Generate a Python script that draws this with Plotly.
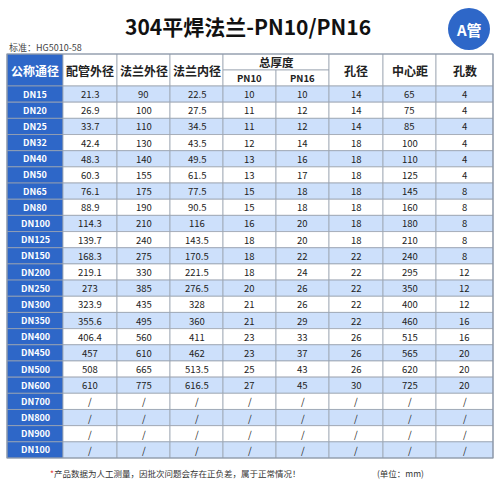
import plotly.graph_objects as go

title = "304平焊法兰-PN10/PN16"
standard = "标准：HG5010-58"
headers = ["公称通径", "配管外径", "法兰外径", "法兰内径", "总厚度", "孔径", "中心距", "孔数"]
sub_headers = ["PN10", "PN16"]
dn = ["DN15","DN20","DN25","DN32","DN40","DN50","DN65","DN80","DN100","DN125","DN150","DN200","DN250","DN300","DN350","DN400","DN450","DN500","DN600","DN700","DN800","DN900","DN100"]
pipe_od = ["21.3","26.9","33.7","42.4","48.3","60.3","76.1","88.9","114.3","139.7","168.3","219.1","273","323.9","355.6","406.4","457","508","610","/","/","/","/"]
flange_od = ["90","100","110","130","140","155","175","190","210","240","275","330","385","435","495","560","610","665","775","/","/","/","/"]
flange_id = ["22.5","27.5","34.5","43.5","49.5","61.5","77.5","90.5","116","143.5","170.5","221.5","276.5","328","360","411","462","513.5","616.5","/","/","/","/"]
pn10 = ["10","11","11","12","13","13","15","15","16","18","18","18","20","21","21","23","23","25","27","/","/","/","/"]
pn16 = ["10","12","12","14","16","17","18","18","20","20","22","24","26","26","29","33","37","43","45","/","/","/","/"]
hole = ["14","14","14","18","18","18","18","18","18","18","22","22","22","22","22","26","26","26","30","/","/","/","/"]
pcd = ["65","75","85","100","110","125","145","160","180","210","240","295","350","400","460","515","565","620","725","/","/","/","/"]
holes = ["4","4","4","4","4","4","8","8","8","8","8","12","12","12","16","16","20","20","20","/","/","/","/"]
columns = [dn, pipe_od, flange_od, flange_id, pn10, pn16, hole, pcd, holes]

xb = [7, 63, 117, 170, 223, 276, 329, 383, 436, 493]
y_head0, y_head1, y_head2 = 54, 70, 86
y_end = 458
n = len(dn)
rh = (y_end - y_head2) / n
BLUE = "#2e67c8"; LIGHT = "#cde0fb"; GRID = "#9aa3b0"

shapes = []; ann = []
def rect(x0, y0, x1, y1, fill):
    shapes.append(dict(type="rect", x0=x0, x1=x1, y0=y0, y1=y1, fillcolor=fill,
                       line=dict(color=GRID, width=0.8), layer="below"))
def txt(x, y, t, size=10, color="#222", bold=False):
    ann.append(dict(x=x, y=y, text=f"<b>{t}</b>" if bold else t, showarrow=False,
                    font=dict(size=size, color=color, family="Noto Sans CJK SC")))

rect(xb[0], y_head0, xb[1], y_head2, BLUE)
txt((xb[0]+xb[1])/2, (y_head0+y_head2)/2, headers[0], 12, "white", True)
for i in range(1, 4):
    rect(xb[i], y_head0, xb[i+1], y_head2, "white")
    txt((xb[i]+xb[i+1])/2, (y_head0+y_head2)/2, headers[i], 12, "#222", True)
rect(xb[4], y_head0, xb[6], y_head1, "white")
txt((xb[4]+xb[6])/2, (y_head0+y_head1)/2, headers[4], 11.5, "#222", True)
for k in range(2):
    rect(xb[4+k], y_head1, xb[5+k], y_head2, "white")
    txt((xb[4+k]+xb[5+k])/2, (y_head1+y_head2)/2, sub_headers[k], 9.5, "#222", True)
for i in range(6, 9):
    rect(xb[i], y_head0, xb[i+1], y_head2, "white")
    txt((xb[i]+xb[i+1])/2, (y_head0+y_head2)/2, headers[i-1], 12, "#222", True)

for r in range(n):
    y0 = y_head2 + r*rh; y1 = y0 + rh; yc = (y0+y1)/2
    for c in range(9):
        if c == 0:
            rect(xb[c], y0, xb[c+1], y1, BLUE)
            txt((xb[c]+xb[c+1])/2, yc, columns[c][r], 9, "white", True)
        else:
            rect(xb[c], y0, xb[c+1], y1, LIGHT if r % 2 == 0 else "white")
            txt((xb[c]+xb[c+1])/2, yc, columns[c][r], 9.5)

shapes.append(dict(type="rect", x0=xb[0], x1=xb[-1], y0=y_head0, y1=y_end,
                   line=dict(color="#8a96a8", width=1.2), fillcolor="rgba(0,0,0,0)"))

txt(248, 26, title, 21, "#111", True)
ann.append(dict(x=7, y=47, text=standard, showarrow=False, xanchor="left",
                font=dict(size=9, color="#444", family="Noto Sans CJK SC")))
shapes.append(dict(type="circle", x0=448, x1=490, y0=8, y1=50, fillcolor=BLUE, line=dict(width=0)))
txt(469, 29, "A管", 15, "white", True)
ann.append(dict(x=48, y=473, text="<span style='color:#e53935'>*</span>产品数据为人工测量，因批次问题会存在正负差，属于正常情况！",
                showarrow=False, xanchor="left", font=dict(size=8.5, color="#333", family="Noto Sans CJK SC")))
txt(400, 473, "(单位：mm)", 8.5, "#333")

fig = go.Figure()
fig.update_layout(width=500, height=500, margin=dict(l=0, r=0, t=0, b=0),
                  paper_bgcolor="white", plot_bgcolor="white",
                  xaxis=dict(range=[0, 500], visible=False, fixedrange=True),
                  yaxis=dict(range=[500, 0], visible=False, fixedrange=True),
                  shapes=shapes, annotations=ann, showlegend=False)
fig.write_html("out.html", config={"displayModeBar": False},
               post_script="document.body.style.margin='0';document.documentElement.style.overflow='hidden';")
